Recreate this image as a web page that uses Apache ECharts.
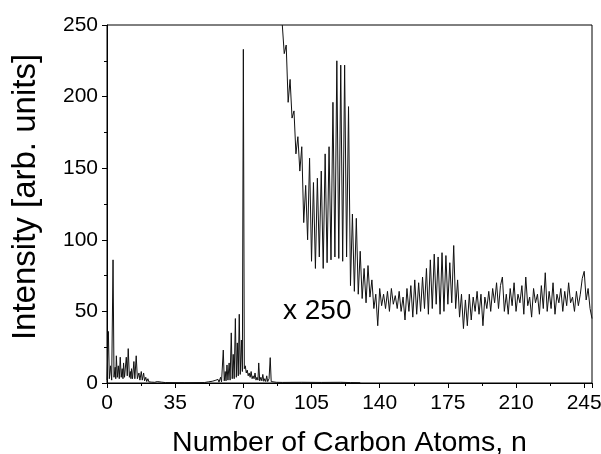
<!DOCTYPE html>
<html>
<head>
<meta charset="utf-8">
<script src="https://cdn.jsdelivr.net/npm/echarts@6/dist/echarts.min.js"></script>
<style>html,body{margin:0;padding:0;background:#fff}#c{width:601px;height:454px}</style>
</head>
<body>
<div id="c"></div>
<script>
// Raw spectrum (unscaled), carbon number n and intensity
const rawN = [0,0.7,1.2,1.8,2.4,3.1,3.6,4.2,4.5,4.8,5.3,5.8,6.3,6.8,7.3,7.8,8.2,8.5,9.0,9.9,10.4,10.9,11.5,12.0,12.3,12.6,13.1,13.8,14.3,15.0,15.6,16.0,16.4,16.9,17.6,18.1,18.8,19.3,19.9,20.4,21.0,21.5,22.5,23,24,24.5,25.8,26.5,28,30,40,50,52,52.5,54,54.5,55.5,56,57,57.5,58.3,58.8,59.7,60.2,60.7,61.1,61.6,62.1,62.7,63.2,63.8,64.3,64.8,65.3,65.9,66.4,66.9,67.4,67.9,68.4,69,69.5,70,70.5,71,71.5,72,72.5,73,73.5,74,74.5,75,75.5,76,76.5,77,77.5,77.9,78.4,79,79.5,80,80.5,81,81.5,82,82.5,83.2,83.8,84.3,85,87,90,100,110,120,125,130];
const rawI = [2,36,3,12,2,86,4,11,3,19,4,12,3,18,4,10,3,14,4,18,5,24,4,8,3,10,3,15,3,19,3,5,7,2,8,2,7,1.5,4,1,3,0.8,2,0.6,1.5,0.5,1,0.4,0.6,0.3,0.2,0.3,0.8,0.3,1.2,0.4,1.8,0.5,2.5,0.6,4,0.8,23,1.5,8,1.5,12.6,2,14,2,35,3,20,3,45,4,28,5,48,6,30,8,233,10,12,7,9,5,7,4,8,3,5,3,7,2,4,2,14,1.5,4,1.5,6,1.2,3,1,5,1,3,17.7,1,0.8,0.5,0.4,0.5,0.4,0.5,0.3,0.2];

// Magnified (x 250) part, n = 90 ... 249 step 1
const magStart = 90;
const magI = [250,230,236,196,212,185,190,160,172,148,
  165,112,138,100,157,85,140,80,143,88,
  148,80,160,84,165,86,196,88,225,87,
  222,85,222,88,193,68,118,64,115,62,
  92,59,80,56,82,60,72,52,62,40,
  66,54,62,52,64,50,66,55,61,52,
  64,50,60,44,66,50,68,46,72,48,
  70,50,74,52,80,48,86,52,90,55,
  88,48,91,50,89,55,84,56,96,52,
  72,46,62,38,58,40,62,44,60,50,
  64,48,62,40,60,52,64,50,66,56,
  70,52,68,74,50,62,48,66,54,70,
  50,62,56,68,48,74,54,60,46,66,
  56,62,48,68,52,77,50,64,52,70,
  48,62,56,66,50,64,54,70,56,60,
  50,64,54,62,73,78,58,66,52,45];

const xTicksInterval = 35;
const yTicksInterval = 50;
const magLabel = 'x 250';
const xTitle = 'Number of Carbon Atoms, n';
const yTitle = 'Intensity [arb. units]';

const rawData = rawN.map((n, i) => [n, rawI[i]]);
const magData = magI.map((v, i) => [magStart + i, v]);

const chart = echarts.init(document.getElementById('c'), null, {renderer: 'canvas'});
const font = 'Liberation Sans, Arial, sans-serif';
chart.setOption({
  animation: false,
  backgroundColor: '#fff',
  grid: {left: 107, right: 9, top: 25, bottom: 71, show: true, borderColor: '#000', borderWidth: 1,
         containLabel: false, outerBoundsMode: 'none'},
  xAxis: {
    type: 'value', min: 0, max: 249, interval: xTicksInterval,
    axisLine: {lineStyle: {color: '#000', width: 1}},
    axisTick: {show: true, length: 5, lineStyle: {color: '#000'}},
    minorTick: {show: true, splitNumber: 2, length: 3, lineStyle: {color: '#000'}},
    splitLine: {show: false},
    axisLabel: {color: '#000', fontSize: 21, fontFamily: font, margin: 10, showMaxLabel: false},
    name: xTitle, nameLocation: 'middle', nameGap: 46,
    nameTextStyle: {color: '#000', fontSize: 28.5, fontFamily: font}
  },
  yAxis: {
    type: 'value', min: 0, max: 250, interval: yTicksInterval,
    axisLine: {show: true, lineStyle: {color: '#000', width: 1}},
    axisTick: {show: true, length: 5, lineStyle: {color: '#000'}},
    minorTick: {show: true, splitNumber: 2, length: 3, lineStyle: {color: '#000'}},
    splitLine: {show: false},
    axisLabel: {color: '#000', fontSize: 21, fontFamily: font, margin: 9},
    name: yTitle, nameLocation: 'middle', nameGap: 65,
    nameTextStyle: {color: '#000', fontSize: 33, fontFamily: font, padding: [0, 0, 0, 14]}
  },
  series: [
    {type: 'line', data: rawData, showSymbol: false, symbol: 'none',
     lineStyle: {color: '#111', width: 1}, clip: true},
    {type: 'line', data: magData, showSymbol: false, symbol: 'none',
     lineStyle: {color: '#111', width: 1}, clip: true}
  ],
  graphic: [{
    type: 'text', left: 283, top: 297,
    style: {text: magLabel, fill: '#000', font: '28px ' + font}
  }]
});
</script>
</body>
</html>
